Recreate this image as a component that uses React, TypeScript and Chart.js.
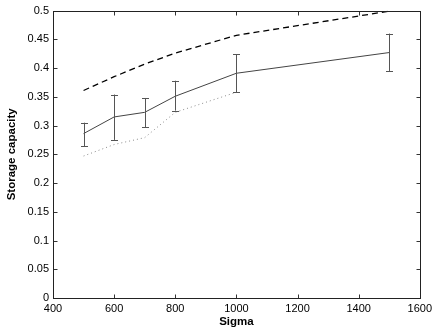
import React, { useEffect, useRef } from 'react';
import { Chart, registerables } from 'chart.js';

Chart.register(...registerables);

const sigma = [500, 600, 700, 800, 1000, 1500];
const meanCapacity = [0.286, 0.315, 0.323, 0.351, 0.391, 0.427];
const errLow = [0.264, 0.275, 0.297, 0.326, 0.358, 0.395];
const errHigh = [0.305, 0.354, 0.348, 0.378, 0.424, 0.46];
const upperCapacity = [0.361, 0.385, 0.407, 0.426, 0.457, 0.499];
const sigmaLower = [500, 600, 700, 800, 1000];
const lowerCapacity = [0.247, 0.267, 0.279, 0.323, 0.358];
const xTicks = [400, 600, 800, 1000, 1200, 1400, 1600];
const yTicks = [0, 0.05, 0.1, 0.15, 0.2, 0.25, 0.3, 0.35, 0.4, 0.45, 0.5];

const FONT = 'Liberation Sans, Arial, Helvetica, sans-serif';

const errorBarPlugin = {
  id: 'errorBars',
  afterDatasetsDraw(chart: any) {
    const { ctx, scales } = chart;
    const xs = scales.x;
    const ys = scales.y;
    ctx.save();
    ctx.strokeStyle = '#555555';
    ctx.lineWidth = 1;
    for (let i = 0; i < sigma.length; i++) {
      const px = Math.round(xs.getPixelForValue(sigma[i])) + 0.5;
      const yl = ys.getPixelForValue(errLow[i]);
      const yh = ys.getPixelForValue(errHigh[i]);
      ctx.beginPath();
      ctx.moveTo(px, yl);
      ctx.lineTo(px, yh);
      ctx.moveTo(px - 3.5, Math.round(yl) + 0.5);
      ctx.lineTo(px + 3.5, Math.round(yl) + 0.5);
      ctx.moveTo(px - 3.5, Math.round(yh) + 0.5);
      ctx.lineTo(px + 3.5, Math.round(yh) + 0.5);
      ctx.stroke();
    }
    ctx.restore();
  },
};

const boxPlugin = {
  id: 'matlabBox',
  afterDraw(chart: any) {
    const { ctx, chartArea, scales } = chart;
    const { left, right, top, bottom } = chartArea;
    const L = Math.round(left) + 0.5;
    const R = Math.round(right) + 0.5;
    const T = Math.round(top) + 0.5;
    const B = Math.round(bottom) + 0.5;
    ctx.save();
    ctx.strokeStyle = '#333333';
    ctx.lineWidth = 1;
    ctx.beginPath();
    const tl = 4;
    for (const v of xTicks) {
      const px = Math.round(scales.x.getPixelForValue(v)) + 0.5;
      ctx.moveTo(px, B);
      ctx.lineTo(px, B - tl);
      ctx.moveTo(px, T);
      ctx.lineTo(px, T + tl);
    }
    for (const v of yTicks) {
      const py = Math.round(scales.y.getPixelForValue(v)) + 0.5;
      ctx.moveTo(L, py);
      ctx.lineTo(L + tl, py);
      ctx.moveTo(R, py);
      ctx.lineTo(R - tl, py);
    }
    ctx.stroke();
    ctx.strokeStyle = '#222222';
    ctx.strokeRect(L, T, R - L, B - T);
    ctx.restore();
  },
};

export default function App() {
  const ref = useRef<HTMLCanvasElement | null>(null);

  useEffect(() => {
    document.body.style.margin = '0';
    const canvas = ref.current;
    if (!canvas) return;
    const chart = new Chart(canvas, {
      type: 'line',
      data: {
        datasets: [
          {
            label: 'upper',
            data: sigma.map((x, i) => ({ x, y: upperCapacity[i] })),
            borderColor: '#000000',
            borderWidth: 1.3,
            borderDash: [6, 4],
            pointRadius: 0,
            fill: false,
            tension: 0,
          },
          {
            label: 'mean',
            data: sigma.map((x, i) => ({ x, y: meanCapacity[i] })),
            borderColor: '#444444',
            borderWidth: 1,
            pointRadius: 0,
            fill: false,
            tension: 0,
          },
          {
            label: 'lower',
            data: sigmaLower.map((x, i) => ({ x, y: lowerCapacity[i] })),
            borderColor: '#8a8a8a',
            borderWidth: 1,
            borderDash: [1, 3],
            pointRadius: 0,
            fill: false,
            tension: 0,
          },
        ],
      },
      options: {
        animation: false,
        responsive: false,
        maintainAspectRatio: false,
        devicePixelRatio: 1,
        layout: { padding: { top: 10, right: 16, left: 0, bottom: 0 } },
        plugins: {
          legend: { display: false },
          tooltip: { enabled: false },
        },
        scales: {
          x: {
            type: 'linear',
            min: 400,
            max: 1600,
            afterFit: (s: any) => {
              s.height = 36;
            },
            afterBuildTicks: (s: any) => {
              s.ticks = xTicks.map((v) => ({ value: v }));
            },
            grid: { display: false, drawTicks: false },
            border: { display: false },
            ticks: {
              padding: 4,
              color: '#000000',
              font: { family: FONT, size: 11 },
              maxRotation: 0,
              autoSkip: false,
              callback: (v: any) => String(v),
            },
            title: {
              display: true,
              text: 'Sigma',
              color: '#000000',
              font: { family: FONT, size: 11.5, weight: 'bold' },
              padding: { top: 5, bottom: 5 },
            },
          },
          y: {
            type: 'linear',
            min: 0,
            max: 0.5,
            afterFit: (s: any) => {
              s.width = 53;
            },
            afterBuildTicks: (s: any) => {
              s.ticks = yTicks.map((v) => ({ value: v }));
            },
            grid: { display: false, drawTicks: false },
            border: { display: false },
            ticks: {
              padding: 4,
              color: '#000000',
              font: { family: FONT, size: 11 },
              autoSkip: false,
              callback: (v: any) => String(Math.round(v * 100) / 100),
            },
            title: {
              display: true,
              text: 'Storage capacity',
              color: '#000000',
              font: { family: FONT, size: 11.5, weight: 'bold' },
              padding: { top: 5, bottom: 5 },
            },
          },
        },
      },
      plugins: [errorBarPlugin, boxPlugin],
    } as any);
    return () => chart.destroy();
  }, []);

  return (
    <div style={{ position: 'absolute', left: 0, top: 0, width: 436, height: 334, background: '#ffffff' }}>
      <canvas ref={ref} width={436} height={334} style={{ width: 436, height: 334, display: 'block' }} />
    </div>
  );
}
